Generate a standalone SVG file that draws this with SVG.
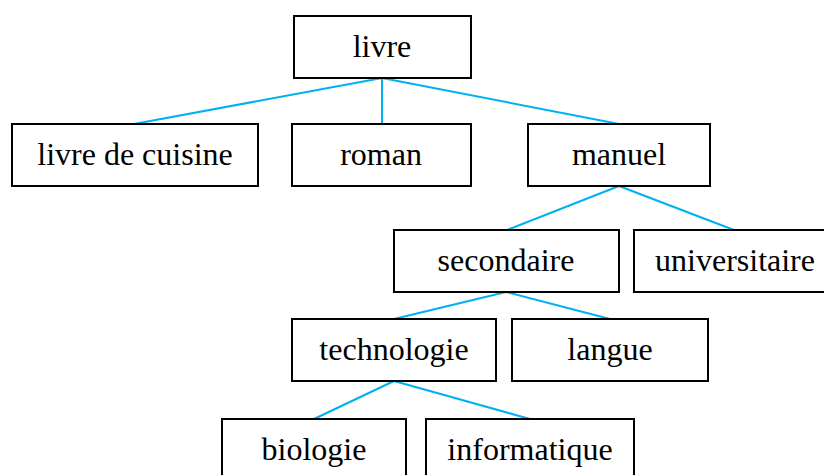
<svg xmlns="http://www.w3.org/2000/svg" width="824" height="475" viewBox="0 0 824 475">
<defs>
<style>
.box{fill:#fff;stroke:#000;stroke-width:2}
.conn line{stroke:#00B0F0;stroke-width:2}
</style>
</defs>
<rect width="824" height="475" fill="#fff"/>
<g class="conn" id="connectors">
<line x1="382" y1="78" x2="134" y2="124"/>
<line x1="382" y1="78" x2="382" y2="124"/>
<line x1="382" y1="78" x2="619" y2="124"/>
<line x1="619" y1="186" x2="507" y2="230"/>
<line x1="619" y1="186" x2="734" y2="230"/>
<line x1="506" y1="292" x2="394" y2="319"/>
<line x1="506" y1="292" x2="610" y2="319"/>
<line x1="394" y1="381" x2="314" y2="419"/>
<line x1="394" y1="381" x2="530" y2="419"/>
</g>
<g id="livre"><rect class="box" x="294" y="16" width="177" height="62"/><text x="382" y="57" font-family="Liberation Serif" font-size="32" text-anchor="middle">livre</text></g>
<g id="livre-de-cuisine"><rect class="box" x="12" y="124" width="246" height="62"/><text x="135" y="165" font-family="Liberation Serif" font-size="32" text-anchor="middle">livre de cuisine</text></g>
<g id="roman"><rect class="box" x="292" y="124" width="179" height="62"/><text x="381" y="165" font-family="Liberation Serif" font-size="32" text-anchor="middle">roman</text></g>
<g id="manuel"><rect class="box" x="528" y="124" width="182" height="62"/><text x="619" y="165" font-family="Liberation Serif" font-size="32" text-anchor="middle">manuel</text></g>
<g id="secondaire"><rect class="box" x="394" y="230" width="225" height="62"/><text x="506" y="271" font-family="Liberation Serif" font-size="32" text-anchor="middle">secondaire</text></g>
<g id="universitaire"><rect class="box" x="634" y="230" width="202" height="62"/><text x="735" y="271" font-family="Liberation Serif" font-size="32" text-anchor="middle">universitaire</text></g>
<g id="technologie"><rect class="box" x="292" y="319" width="204" height="62"/><text x="394" y="360" font-family="Liberation Serif" font-size="32" text-anchor="middle">technologie</text></g>
<g id="langue"><rect class="box" x="512" y="319" width="196" height="62"/><text x="610" y="360" font-family="Liberation Serif" font-size="32" text-anchor="middle">langue</text></g>
<g id="biologie"><rect class="box" x="222" y="419" width="184" height="62"/><text x="314" y="460" font-family="Liberation Serif" font-size="32" text-anchor="middle">biologie</text></g>
<g id="informatique"><rect class="box" x="426" y="419" width="208" height="62"/><text x="530" y="460" font-family="Liberation Serif" font-size="32" text-anchor="middle">informatique</text></g>
</svg>
